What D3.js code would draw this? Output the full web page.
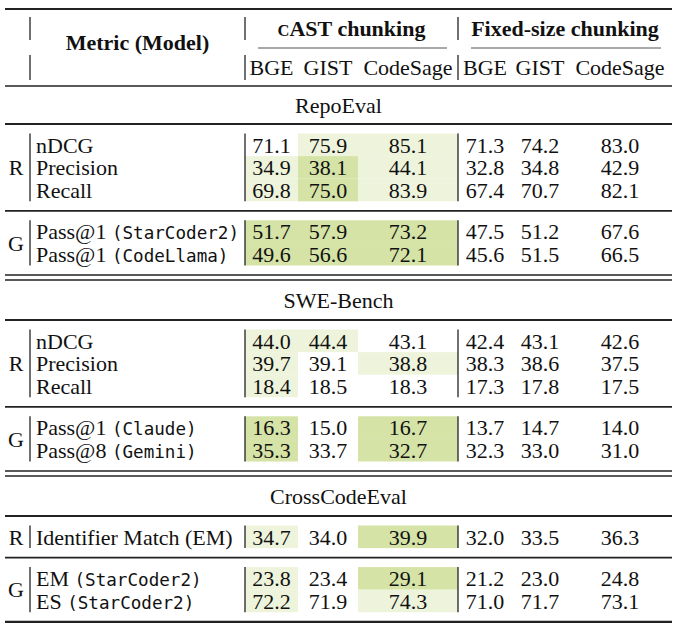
<!DOCTYPE html>
<html>
<head>
<meta charset="utf-8">
<script src="https://cdn.jsdelivr.net/npm/d3@7"></script>
<style>
  body { margin: 0; background: #fff; }
  text { font-family: "Liberation Serif", "Times New Roman", serif; fill: #111; }
  .mono { font-family: "DejaVu Sans Mono", monospace; }
</style>
</head>
<body>
<svg id="chart" width="680" height="631"></svg>
<script>
// Données
const models = ["BGE", "GIST", "CodeSage"];
const methods = ["cAST chunking", "Fixed-size chunking"];
const benchmarks = ["RepoEval", "SWE-Bench", "CrossCodeEval"];

// RepoEval
const repoRetrievalLabels = [["nDCG"], ["Precision"], ["Recall"]];
const repoRetrievalCast = [[71.1, 75.9, 85.1], [34.9, 38.1, 44.1], [69.8, 75.0, 83.9]];
const repoRetrievalFixed = [[71.3, 74.2, 83.0], [32.8, 34.8, 42.9], [67.4, 70.7, 82.1]];
const repoRetrievalShade = [[0, 1, 1], [1, 2, 1], [1, 2, 1]];
const repoGenLabels = [["Pass@1 ", "(StarCoder2)"], ["Pass@1 ", "(CodeLlama)"]];
const repoGenCast = [[51.7, 57.9, 73.2], [49.6, 56.6, 72.1]];
const repoGenFixed = [[47.5, 51.2, 67.6], [45.6, 51.5, 66.5]];
const repoGenShade = [[2, 2, 2], [2, 2, 2]];

// SWE-Bench
const sweRetrievalLabels = [["nDCG"], ["Precision"], ["Recall"]];
const sweRetrievalCast = [[44.0, 44.4, 43.1], [39.7, 39.1, 38.8], [18.4, 18.5, 18.3]];
const sweRetrievalFixed = [[42.4, 43.1, 42.6], [38.3, 38.6, 37.5], [17.3, 17.8, 17.5]];
const sweRetrievalShade = [[1, 1, 0], [1, 0, 1], [1, 0, 0]];
const sweGenLabels = [["Pass@1 ", "(Claude)"], ["Pass@8 ", "(Gemini)"]];
const sweGenCast = [[16.3, 15.0, 16.7], [35.3, 33.7, 32.7]];
const sweGenFixed = [[13.7, 14.7, 14.0], [32.3, 33.0, 31.0]];
const sweGenShade = [[2, 0, 2], [2, 0, 2]];

// CrossCodeEval
const cceRetrievalLabels = [["Identifier Match (EM)"]];
const cceRetrievalCast = [[34.7, 34.0, 39.9]];
const cceRetrievalFixed = [[32.0, 33.5, 36.3]];
const cceRetrievalShade = [[1, 0, 2]];
const cceGenLabels = [["EM ", "(StarCoder2)"], ["ES ", "(StarCoder2)"]];
const cceGenCast = [[23.8, 23.4, 29.1], [72.2, 71.9, 74.3]];
const cceGenFixed = [[21.2, 23.0, 24.8], [71.0, 71.7, 73.1]];
const cceGenShade = [[1, 0, 2], [1, 0, 1]];

const sections = [
    { title: benchmarks[0], blocks: [
        { group: "R", labels: repoRetrievalLabels, cast: repoRetrievalCast, fixed: repoRetrievalFixed, shade: repoRetrievalShade },
        { group: "G", labels: repoGenLabels, cast: repoGenCast, fixed: repoGenFixed, shade: repoGenShade }] },
    { title: benchmarks[1], blocks: [
        { group: "R", labels: sweRetrievalLabels, cast: sweRetrievalCast, fixed: sweRetrievalFixed, shade: sweRetrievalShade },
        { group: "G", labels: sweGenLabels, cast: sweGenCast, fixed: sweGenFixed, shade: sweGenShade }] },
    { title: benchmarks[2], blocks: [
        { group: "R", labels: cceRetrievalLabels, cast: cceRetrievalCast, fixed: cceRetrievalFixed, shade: cceRetrievalShade },
        { group: "G", labels: cceGenLabels, cast: cceGenCast, fixed: cceGenFixed, shade: cceGenShade }] }
];

// Mise en page
const fs = 22;
const left = 5, right = 672;
const xGroupBar = 30, xLabel = 36, xGroup = 16;
const colWidths = [53, 60, 100, 54, 56, 104];
const xStart = 245;
const colKeys = d3.range(6);
const lefts = colWidths.map((w, i) => xStart + d3.sum(colWidths.slice(0, i)));
const x = d3.scaleOrdinal().domain(colKeys).range(lefts);
const w = d3.scaleOrdinal().domain(colKeys).range(colWidths);
const xMid = (k) => x(k) + w(k) / 2;
const xSplit = x(3), xEnd = x(5) + w(5);

const shade = d3.scaleOrdinal().domain([0, 1, 2]).range(["none", "#eef4dc", "#d5e3a6"]);
const fmt = d3.format(".1f");

const svg = d3.select("#chart");
const gShade = svg.append("g");
const gLines = svg.append("g");
const gText = svg.append("g");

function rule(y, sw) {
    gLines.append("line")
        .attr("x1", left).attr("x2", right)
        .attr("y1", y).attr("y2", y)
        .attr("stroke", "#222").attr("stroke-width", sw);
}
function vbar(xx, y1, y2) {
    gLines.append("line")
        .attr("x1", xx).attr("x2", xx)
        .attr("y1", y1).attr("y2", y2)
        .attr("stroke", "#222").attr("stroke-width", 1.3);
}
function label(parts, xx, y, anchor) {
    const t = gText.append("text")
        .attr("x", xx).attr("y", y).attr("dy", "0.35em")
        .attr("font-size", fs).attr("text-anchor", anchor || "start");
    parts.forEach((p, i) => {
        t.append("tspan").attr("class", i === 1 ? "mono" : null)
            .attr("font-size", i === 1 ? 17.6 : fs).text(p);
    });
    return t;
}

// En-tête
rule(9, 2.2);
const h1 = 28, h2 = 67, hTitle = 42, cmid = 48;
[xGroupBar, xStart, xSplit].forEach(xx => {
    vbar(xx, 17, 40);
    vbar(xx, 55, 80);
});
gText.append("text").attr("x", (xGroupBar + xStart) / 2).attr("y", hTitle).attr("dy", "0.35em")
    .attr("text-anchor", "middle").attr("font-size", fs).attr("font-weight", "bold")
    .text("Metric (Model)");

methods.forEach((m, i) => {
    const a = i === 0 ? xStart : xSplit, b = i === 0 ? xSplit : xEnd;
    const t = gText.append("text").attr("x", (a + b) / 2).attr("y", h1).attr("dy", "0.35em")
        .attr("text-anchor", "middle").attr("font-size", fs).attr("font-weight", "bold");
    if (m.startsWith("cAST")) {
        t.append("tspan").attr("font-size", 16.5).text("C");
        t.append("tspan").text(m.slice(1));
    } else {
        t.text(m);
    }
    gLines.append("line").attr("x1", a + 13).attr("x2", b - 11).attr("y1", cmid).attr("y2", cmid)
        .attr("stroke", "#555").attr("stroke-width", 1);
});
colKeys.forEach(k => {
    gText.append("text").attr("x", xMid(k)).attr("y", h2).attr("dy", "0.35em")
        .attr("text-anchor", "middle").attr("font-size", fs).text(models[k % 3]);
});

// Corps
const step = 22.6, pad = 20.8;
let y = 86;
sections.forEach((s, si) => {
    if (si === 0) {
        rule(y, 1.6);
    } else {
        rule(y, 1.6);
        y += 5;
        rule(y, 1.6);
    }
    const titleGap = si === 0 ? 38 : 40;
    gText.append("text").attr("x", (left + right) / 2).attr("y", y + titleGap / 2).attr("dy", "0.35em")
        .attr("text-anchor", "middle").attr("font-size", fs).text(s.title);
    y += titleGap;
    rule(y, 1.8);
    s.blocks.forEach((b, bi) => {
        const first = y + pad;
        const rowY = d3.scaleLinear().domain([0, 1]).range([first, first + step]);
        const n = b.labels.length;
        const top = rowY(0) - step / 2, bottom = rowY(n - 1) + step / 2;

        b.labels.forEach((lab, r) => {
            const cy = rowY(r);
            label(lab, xLabel, cy);
            const vals = b.cast[r].concat(b.fixed[r]);
            vals.forEach((v, k) => {
                const lvl = k < 3 ? b.shade[r][k] : 0;
                if (lvl) {
                    gShade.append("rect")
                        .attr("x", x(k)).attr("width", w(k))
                        .attr("y", cy - step / 2).attr("height", step)
                        .style("fill", shade(lvl));
                }
                gText.append("text").attr("x", xMid(k)).attr("y", cy).attr("dy", "0.35em")
                    .attr("text-anchor", "middle").attr("font-size", fs).text(fmt(v));
            });
        });
        gText.append("text").attr("x", xGroup).attr("y", (rowY(0) + rowY(n - 1)) / 2).attr("dy", "0.35em")
            .attr("text-anchor", "middle").attr("font-size", fs).text(b.group);
        vbar(xGroupBar, top, bottom);
        vbar(xStart, top, bottom);
        vbar(xSplit, top, bottom);

        y = rowY(n - 1) + pad;
        if (bi < s.blocks.length - 1) rule(y, 1.8);
    });
});
rule(y, 2.2);
</script>
</body>
</html>
